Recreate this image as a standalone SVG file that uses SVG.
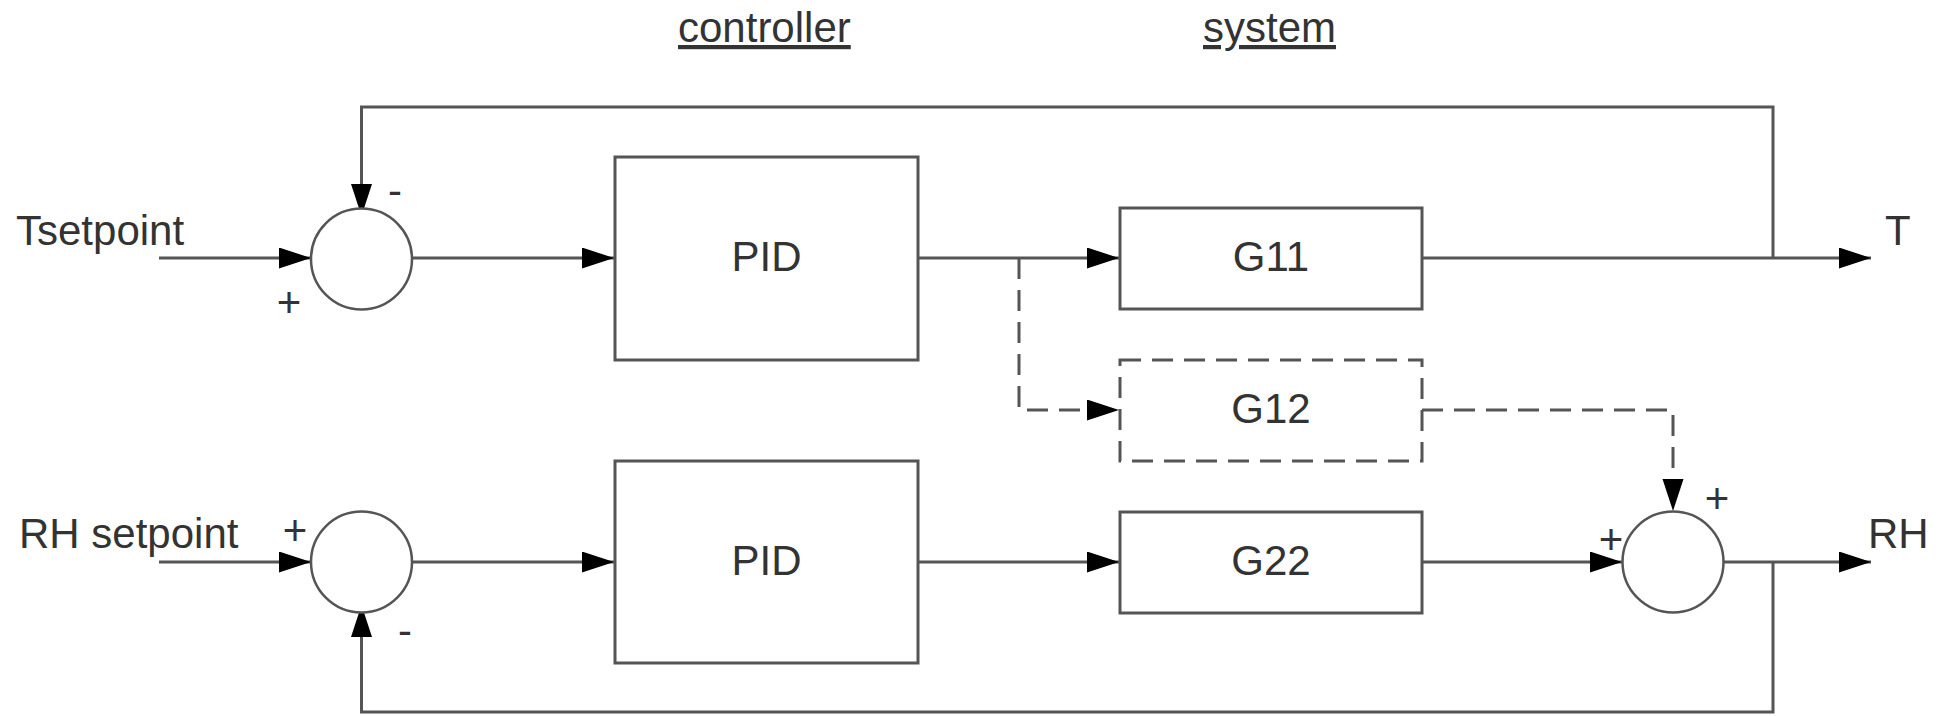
<svg xmlns="http://www.w3.org/2000/svg" width="1955" height="716" viewBox="0 0 1955 716">
  <style>
    .txt { font-family: "Liberation Sans", Arial, sans-serif; font-size: 42px; fill: #333; }
    .mid { text-anchor: middle; }
    .blk { fill: #fff; stroke: #555; stroke-width: 3; }
    .sum { fill: #fff; stroke: #555; stroke-width: 2.5; }
    .dash { stroke-dasharray: 21 11; }
    .wire { fill: none; stroke: #555; stroke-width: 3; }
    .ul { text-decoration: underline; }
  </style>
  <defs>
    <marker id="arrow" markerUnits="userSpaceOnUse" markerWidth="34" markerHeight="22" refX="32" refY="10.5" orient="auto">
      <path d="M0,0 L32,10.5 L0,21 Z" fill="#000"/>
    </marker>
  </defs>
  <rect width="1955" height="716" fill="#fff"/>

  <!-- section headings -->
  <g id="headings">
    <text class="txt ul" x="678" y="42">controller</text>
    <text class="txt ul" x="1203" y="42">system</text>
  </g>

  <!-- signal wiring -->
  <g id="connectors">
    <!-- temperature loop -->
    <path class="wire" d="M159,258 H311" marker-end="url(#arrow)"/>
    <path class="wire" d="M412,258 H614" marker-end="url(#arrow)"/>
    <path class="wire" d="M918,258 H1119" marker-end="url(#arrow)"/>
    <path class="wire" d="M1422,258 H1871" marker-end="url(#arrow)"/>
    <path class="wire" d="M1773,258 V107 H361.5 V216" marker-end="url(#arrow)"/>
    <!-- cross-coupling -->
    <path class="wire dash" d="M1019,258 V410 H1119" marker-end="url(#arrow)"/>
    <path class="wire dash" d="M1422,410 H1673 V511" marker-end="url(#arrow)"/>
    <!-- humidity loop -->
    <path class="wire" d="M159,562 H311" marker-end="url(#arrow)"/>
    <path class="wire" d="M412,562 H614" marker-end="url(#arrow)"/>
    <path class="wire" d="M918,562 H1119" marker-end="url(#arrow)"/>
    <path class="wire" d="M1422,562 H1622" marker-end="url(#arrow)"/>
    <path class="wire" d="M1723,562 H1871" marker-end="url(#arrow)"/>
    <path class="wire" d="M1773,562 V712 H361.5 V605" marker-end="url(#arrow)"/>
  </g>

  <!-- signal labels -->
  <g id="labels">
    <text class="txt" x="16" y="245">Tsetpoint</text>
    <text class="txt" x="19" y="548">RH setpoint</text>
    <text class="txt" x="1885" y="245">T</text>
    <text class="txt" x="1868" y="548">RH</text>
  </g>

  <g id="sum-T">
    <circle class="sum" cx="361.5" cy="259" r="50.5"/>
    <text class="txt mid" x="289" y="317">+</text>
    <text class="txt mid" x="395" y="205">-</text>
  </g>

  <g id="sum-RH">
    <circle class="sum" cx="361.5" cy="562" r="50.5"/>
    <text class="txt mid" x="295" y="545">+</text>
    <text class="txt mid" x="405" y="645">-</text>
  </g>

  <g id="pid-T">
    <rect class="blk" x="615" y="157" width="303" height="203"/>
    <text class="txt mid" x="766.5" y="271">PID</text>
  </g>

  <g id="pid-RH">
    <rect class="blk" x="615" y="461" width="303" height="202"/>
    <text class="txt mid" x="766.5" y="575">PID</text>
  </g>

  <g id="g11">
    <rect class="blk" x="1120" y="208" width="302" height="101"/>
    <text class="txt mid" x="1271" y="271">G11</text>
  </g>

  <g id="g12">
    <rect class="blk dash" x="1120" y="360" width="302" height="101"/>
    <text class="txt mid" x="1271" y="423">G12</text>
  </g>

  <g id="g22">
    <rect class="blk" x="1120" y="512" width="302" height="101"/>
    <text class="txt mid" x="1271" y="575">G22</text>
  </g>

  <g id="sum-out">
    <circle class="sum" cx="1673" cy="562" r="50.5"/>
    <text class="txt mid" x="1611" y="554">+</text>
    <text class="txt mid" x="1717" y="513">+</text>
  </g>
</svg>
